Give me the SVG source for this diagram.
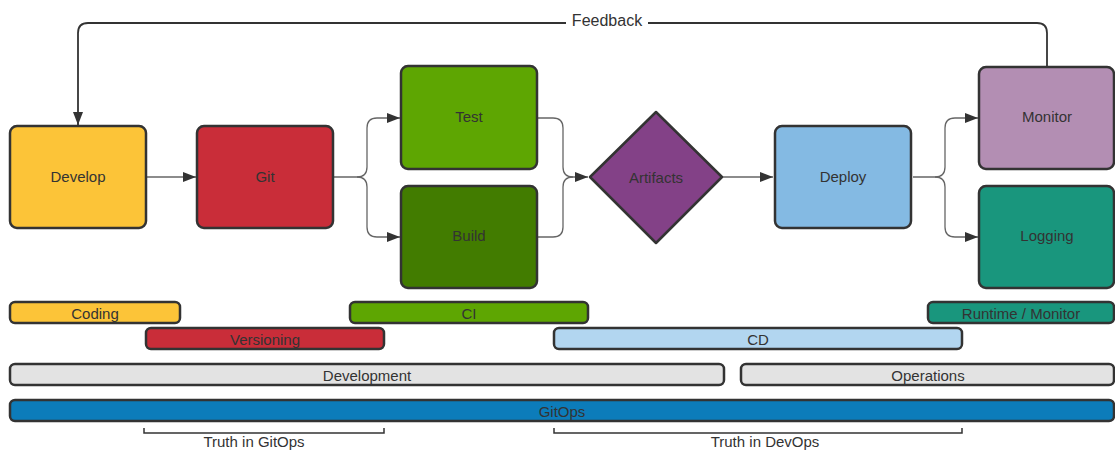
<svg xmlns="http://www.w3.org/2000/svg" width="1115" height="450" viewBox="0 0 1115 450">
<style>
.n{stroke:#333;stroke-width:2.5}
.b{stroke:#333;stroke-width:2.5}
.t{font-family:"Liberation Sans",Arial,sans-serif;font-size:15px;fill:#333;text-anchor:middle;dominant-baseline:central}
.c{fill:none;stroke:#333;stroke-width:1.8}
.g{fill:none;stroke:#666;stroke-width:1.3}
</style>
<defs>
<marker id="ar" markerUnits="userSpaceOnUse" markerWidth="14" markerHeight="10" refX="13" refY="5" orient="auto">
<path d="M0,0 L13,5 L0,10 z" fill="#333"/>
</marker>
</defs>
<rect width="1115" height="450" fill="#fff"/>
<g id="connectors">
<path class="c" d="M1047,67 V33 Q1047,23 1037,23 H88 Q78,23 78,33 V125" marker-end="url(#ar)"/>
<rect x="566" y="12" width="82" height="18" fill="#fff"/>
<text class="t" x="607" y="20" style="font-size:16px">Feedback</text>
<path class="g" d="M147,177 H196" marker-end="url(#ar)"/>
<path class="g" d="M334,177 H357 Q367,177 367,167 V128 Q367,118 377,118 H400" marker-end="url(#ar)"/>
<path class="g" d="M357,177 Q367,177 367,187 V227 Q367,237 377,237 H400" marker-end="url(#ar)"/>
<path class="g" d="M538,118 H553 Q563,118 563,128 V167 Q563,177 573,177 H588" marker-end="url(#ar)"/>
<path class="g" d="M538,237 H553 Q563,237 563,227 V187 Q563,177 573,177" />
<path class="g" d="M723,177 H773" marker-end="url(#ar)"/>
<path class="g" d="M913,177 H935 Q945,177 945,167 V128 Q945,118 955,118 H978" marker-end="url(#ar)"/>
<path class="g" d="M935,177 Q945,177 945,187 V227 Q945,237 955,237 H978" marker-end="url(#ar)"/>
</g>
<g id="develop"><rect class="n" x="10" y="126" width="136" height="102" rx="7" fill="#fcc438"/><text class="t" x="78" y="176">Develop</text></g>
<g id="git"><rect class="n" x="197" y="126" width="136" height="102" rx="7" fill="#c92d39"/><text class="t" x="265" y="176">Git</text></g>
<g id="test"><rect class="n" x="401" y="66" width="136" height="103" rx="7" fill="#5ea602"/><text class="t" x="469" y="116">Test</text></g>
<g id="build"><rect class="n" x="401" y="186" width="136" height="102" rx="7" fill="#427c00"/><text class="t" x="469" y="235">Build</text></g>
<g id="artifacts"><path class="n" d="M656,112 L722,177 L656,243 L590,177 Z" stroke-linejoin="round" fill="#834187"/><text class="t" x="656" y="177">Artifacts</text></g>
<g id="deploy"><rect class="n" x="775" y="126" width="136" height="102" rx="7" fill="#84bae3"/><text class="t" x="843" y="176">Deploy</text></g>
<g id="monitor"><rect class="n" x="979" y="67" width="135" height="102" rx="7" fill="#b38eb3"/><text class="t" x="1047" y="116">Monitor</text></g>
<g id="logging"><rect class="n" x="979" y="186" width="135" height="102" rx="7" fill="#19967d"/><text class="t" x="1047" y="235">Logging</text></g>
<g id="coding"><rect class="b" x="10" y="302" width="170" height="21" rx="5" fill="#fcc438"/><text class="t" x="95" y="313">Coding</text></g>
<g id="ci"><rect class="b" x="350" y="302" width="238" height="21" rx="5" fill="#5ea602"/><text class="t" x="469" y="313">CI</text></g>
<g id="runtime"><rect class="b" x="928" y="302" width="186" height="21" rx="5" fill="#19967d"/><text class="t" x="1021" y="313">Runtime / Monitor</text></g>
<g id="versioning"><rect class="b" x="146" y="328" width="238" height="21" rx="5" fill="#c92d39"/><text class="t" x="265" y="339">Versioning</text></g>
<g id="cd"><rect class="b" x="554" y="328" width="408" height="21" rx="5" fill="#b2d6f0"/><text class="t" x="758" y="339">CD</text></g>
<g id="development"><rect class="b" x="10" y="364" width="714" height="21" rx="5" fill="#e3e3e3"/><text class="t" x="367" y="375">Development</text></g>
<g id="operations"><rect class="b" x="741" y="364" width="373" height="21" rx="5" fill="#e3e3e3"/><text class="t" x="928" y="375">Operations</text></g>
<g id="gitops"><rect class="b" x="10" y="400" width="1104" height="21" rx="5" fill="#0c7cba"/><text class="t" x="562" y="411">GitOps</text></g>
<g id="truth-gitops"><path d="M144,428 V433 H384 V428" fill="none" stroke="#333" stroke-width="1.5"/><text class="t" x="254" y="441">Truth in GitOps</text></g>
<g id="truth-devops"><path d="M554,428 V433 H962 V428" fill="none" stroke="#333" stroke-width="1.5"/><text class="t" x="765" y="441">Truth in DevOps</text></g>
</svg>
